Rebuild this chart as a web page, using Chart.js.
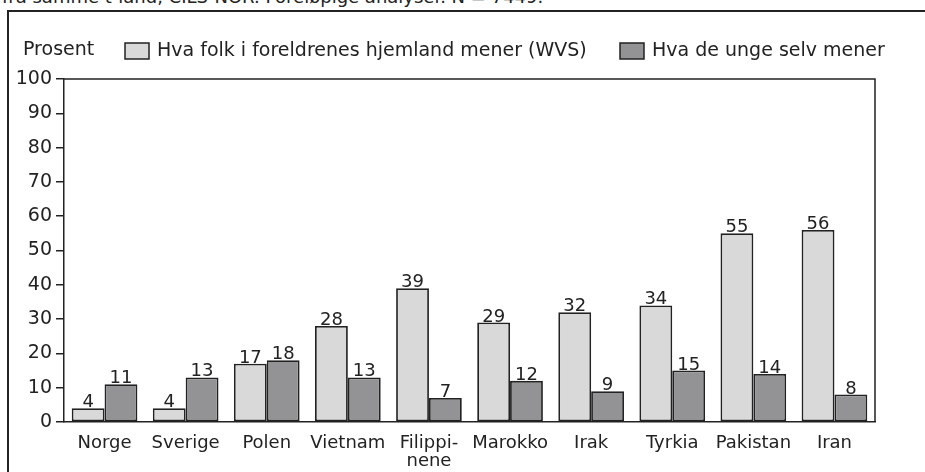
<!DOCTYPE html>
<html>
<head>
<meta charset="utf-8">
<script src="https://cdn.jsdelivr.net/npm/chart.js@4.4.1/dist/chart.umd.min.js"></script>
<style>
  body { margin: 0; background: #fff; overflow: hidden; }
  #wrap { position: relative; width: 925px; height: 472px; overflow: hidden; }
  #cut { position: absolute; left: 2px; top: -12px; font: 18px "DejaVu Sans", sans-serif; line-height: 18px; color: #222; white-space: nowrap; }
  #frame { position: absolute; left: 7px; top: 10px; width: 930px; height: 480px; border-top: 2.5px solid #222; border-left: 2.5px solid #222; }
  canvas { position: absolute; left: 0; top: 0; }
</style>
</head>
<body>
<div id="wrap">
  <div id="cut">fra samme t-land, CILS-NOR. Foreløpige analyser. N = 7449.</div>
  <div id="frame"></div>
  <canvas id="chart" width="925" height="472"></canvas>
</div>
<script>
// Data
const countries = ["Norge", "Sverige", "Polen", "Vietnam", ["Filippi-", "nene"], "Marokko", "Irak", "Tyrkia", "Pakistan", "Iran"];
const homeland = [4, 4, 17, 28, 39, 29, 32, 34, 55, 56];
const youth = [11, 13, 18, 13, 7, 12, 9, 15, 14, 8];
const seriesNames = ["Hva folk i foreldrenes hjemland mener (WVS)", "Hva de unge selv mener"];
const yTicks = [0, 10, 20, 30, 40, 50, 60, 70, 80, 90, 100];

const FONT = '"DejaVu Sans", sans-serif';
const INK = "#222";

// value labels, plot frame, custom legend
const extras = {
  id: "extras",
  afterDatasetsDraw(chart) {
    const ctx = chart.ctx;
    const area = chart.chartArea;
    ctx.save();
    ctx.font = "18px " + FONT;
    ctx.fillStyle = INK;
    ctx.textAlign = "center";
    ctx.textBaseline = "alphabetic";
    chart.data.datasets.forEach((ds, i) => {
      chart.getDatasetMeta(i).data.forEach((bar, j) => {
        ctx.fillText(ds.data[j], bar.x, bar.y - 1);
      });
    });
    // top and right border of the plot
    ctx.strokeStyle = INK;
    ctx.lineWidth = 1.5;
    ctx.beginPath();
    ctx.moveTo(area.left, area.top);
    ctx.lineTo(area.right, area.top);
    ctx.lineTo(area.right, area.bottom);
    ctx.stroke();

    // legend
    ctx.textAlign = "left";
    ctx.textBaseline = "middle";
    ctx.font = "19px " + FONT;
    ctx.fillText("Prosent", 23, 50);
    const boxes = [125, 620];
    chart.data.datasets.forEach((ds, i) => {
      const x = boxes[i];
      ctx.fillStyle = ds.backgroundColor;
      ctx.fillRect(x, 43, 24, 16);
      ctx.lineWidth = 1.5;
      ctx.strokeRect(x, 43, 24, 16);
      ctx.fillStyle = INK;
      ctx.fillText(ds.label, x + 32, 51);
    });
    ctx.restore();
  }
};

new Chart(document.getElementById("chart"), {
  type: "bar",
  data: {
    labels: countries,
    datasets: [
      { label: seriesNames[0], data: homeland, backgroundColor: "#d9d9da", borderColor: INK, borderWidth: 1.8, borderSkipped: false },
      { label: seriesNames[1], data: youth, backgroundColor: "#939396", borderColor: INK, borderWidth: 1.8, borderSkipped: false }
    ]
  },
  options: {
    responsive: false,
    animation: false,
    layout: { padding: { left: 0, right: 50, top: 79, bottom: 0 } },
    plugins: { legend: { display: false }, tooltip: { enabled: false } },
    datasets: { bar: { categoryPercentage: 0.81, barPercentage: 1.0 } },
    scales: {
      x: {
        grid: { display: false },
        border: { display: true, color: INK, width: 1.5 },
        ticks: { color: INK, font: { family: FONT, size: 18, lineHeight: 1.0 }, padding: 4, maxRotation: 0, autoSkip: false },
        afterFit(scale) { scale.height = 50; }
      },
      y: {
        min: 0,
        max: 100,
        afterBuildTicks(scale) { scale.ticks = yTicks.map(v => ({ value: v })); },
        grid: { drawOnChartArea: false, drawTicks: true, tickLength: 8, color: INK, lineWidth: 1.5 },
        border: { display: true, color: INK, width: 1.5 },
        ticks: { color: INK, font: { family: FONT, size: 19 }, padding: 4 },
        afterFit(scale) { scale.width = 64; }
      }
    }
  },
  plugins: [extras]
});
</script>
</body>
</html>
